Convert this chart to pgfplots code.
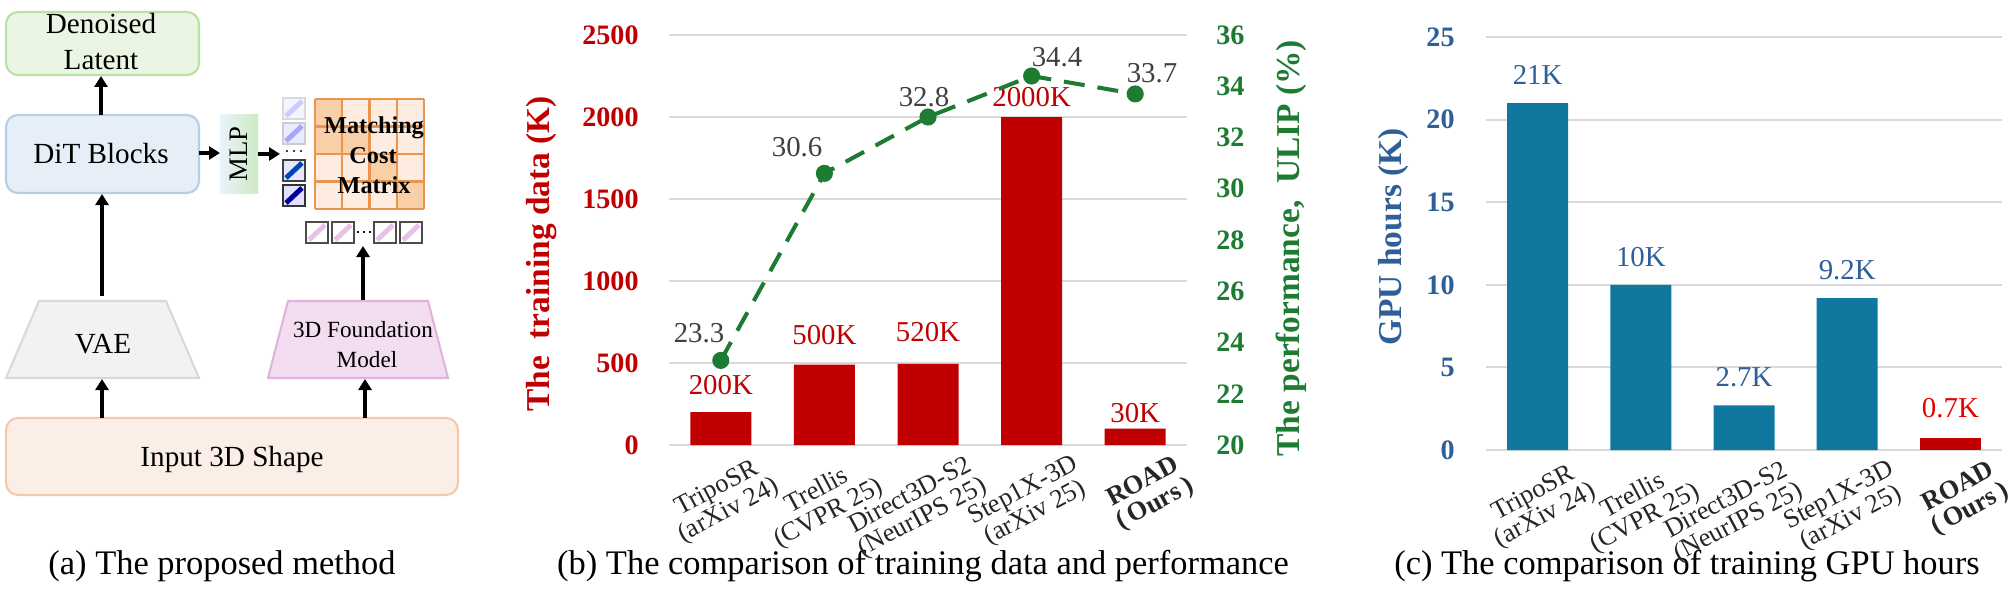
\documentclass[border=0pt]{standalone}
\usepackage{fontspec}
\setmainfont{Liberation Serif}
\usepackage{pgfplots}
\pgfplotsset{compat=1.18}
\usetikzlibrary{arrows.meta}

\definecolor{dred}{HTML}{C00000}
\definecolor{bred}{HTML}{E60000}
\definecolor{dgreen}{HTML}{1E7B32}
\definecolor{cblue}{HTML}{2E5F98}
\definecolor{cteal}{HTML}{10789F}
\definecolor{gridc}{HTML}{D9D9D9}
\definecolor{vgray}{HTML}{404040}
% diagram colours
\definecolor{gfill}{HTML}{EAF5E3}\definecolor{gline}{HTML}{B9E0A5}
\definecolor{bfill}{HTML}{E6EEF8}\definecolor{bline}{HTML}{B7CDE8}
\definecolor{vfill}{HTML}{F2F2F2}\definecolor{vline}{HTML}{D9D9D9}
\definecolor{ifill}{HTML}{FBEEE6}\definecolor{iline}{HTML}{F4C9B0}
\definecolor{pfill}{HTML}{F2DDF1}\definecolor{pline}{HTML}{E1B3DE}
\definecolor{mlight}{HTML}{FDECDF}\definecolor{mdark}{HTML}{F9CFA8}\definecolor{mline}{HTML}{E9954F}
\definecolor{mlpa}{HTML}{EAF2FA}\definecolor{mlpb}{HTML}{CDEBC4}

\newcommand\capfont{\fontsize{9.8}{11}\selectfont}
\newcommand\tickfont{\fontsize{8}{9}\selectfont\bfseries}
\newcommand\labfont{\fontsize{9.5}{11}\selectfont\bfseries}
\newcommand\valfont{\fontsize{8.2}{9}\selectfont}
\newcommand\xtfont{\fontsize{7.5}{7.2}\selectfont}

% one token square: x, y (top), fill, stripe, border
\newcommand\tok[5]{%
  \fill[#3] (#1,#2) rectangle ++(22,21);
  \draw[#4, line width=1.4pt] (#1+3,#2+18) -- (#1+19,#2+3);
  \draw[#5, line width=0.6pt] (#1,#2) rectangle ++(22,21);}

\pgfplotsset{
  barax/.style={
    scale only axis, xmin=-0.5, xmax=4.5, clip=false,
    axis line style={draw=none}, major tick length=0pt,
    ymajorgrids, grid style={color=gridc, line width=0.6pt},
    xtick={0,...,4}, scaled y ticks=false,
    /pgf/number format/1000 sep={},
    /pgf/number format/assume math mode=true,
    xticklabel style={font=\xtfont, text=black!85, align=center, inner sep=0pt,
      xshift=4mm, yshift=-0.7mm, rotate=28, anchor=north east},
    xticklabels={{TripoSR\\(arXiv 24)},{Trellis\\(CVPR 25)},
      {Direct3D-S2\\(NeurIPS 25)},{Step1X-3D\\(arXiv 25)},
      {\textbf{ROAD}\\\textbf{(\,Ours\,)}}},
  },
}

\begin{document}
\begin{tikzpicture}
\useasboundingbox (0,0) rectangle (201.5mm,-59.2mm);

% ---------------- (a) diagram, pixel coordinates from the top left
\begin{scope}[x=0.1mm, y=-0.1mm, line width=0.6pt]
  \draw[gline, fill=gfill, rounded corners=1.2mm] (6,12) rectangle (199,75);
  \node[font=\fontsize{8.3}{9}\selectfont, anchor=base] at (101,34) {Denoised};
  \node[font=\fontsize{8.3}{9}\selectfont, anchor=base] at (101,70) {Latent};

  \draw[bline, fill=bfill, rounded corners=1.2mm] (6,115) rectangle (199,193);
  \node[font=\fontsize{8.3}{9}\selectfont, anchor=base] at (101,164) {DiT Blocks};

  \draw[vline, fill=vfill] (39,301) -- (166,301) -- (199,378) -- (6,378) -- cycle;
  \node[font=\fontsize{8.3}{9}\selectfont, anchor=base] at (103,353) {VAE};

  \draw[pline, fill=pfill] (288,301) -- (428,301) -- (448,378) -- (268,378) -- cycle;
  \node[font=\fontsize{6.6}{7}\selectfont, anchor=base] at (363,337) {3D Foundation};
  \node[font=\fontsize{6.6}{7}\selectfont, anchor=base] at (367,367) {Model};

  \draw[iline, fill=ifill, rounded corners=1.2mm] (6,418) rectangle (458,495);
  \node[font=\fontsize{8.3}{9}\selectfont, anchor=base] at (232,466) {Input 3D Shape};

  \shade[left color=mlpa, right color=mlpb] (220,115) rectangle (258,193);
  \node[rotate=90, font=\fontsize{7.6}{8}\selectfont] at (239,154) {MLP};

  % blue query tokens
  \tok{283}{98}{blue!4}{blue!20}{black!15}
  \tok{283}{123}{blue!8}{blue!35}{black!20}
  \tok{283}{160}{blue!10}{blue!60!cyan!70!black}{black!75}
  \tok{283}{185}{blue!12}{blue!60!black}{black!80}
  \foreach \xx in {287,294,301} \fill (\xx,151) circle (0.12mm);

  % matching cost matrix
  \foreach \r in {0,...,3} \foreach \c in {0,...,3}
    \fill[mlight] (315+\c*27.25,99+\r*27.5) rectangle ++(27.25,27.5);
  \foreach \c/\r in {0/0,0/1,1/1,2/2,3/3}
    \fill[mdark] (315+\c*27.25,99+\r*27.5) rectangle ++(27.25,27.5);
  \foreach \i in {0,...,4} {
    \draw[mline] (315+\i*27.25,99) -- (315+\i*27.25,209);
    \draw[mline] (315,99+\i*27.5) -- (424,99+\i*27.5);
  }
  \node[font=\fontsize{6.9}{7}\selectfont\bfseries, anchor=base] at (374,133) {Matching};
  \node[font=\fontsize{6.9}{7}\selectfont\bfseries, anchor=base] at (373,163) {Cost};
  \node[font=\fontsize{6.9}{7}\selectfont\bfseries, anchor=base] at (374,193) {Matrix};

  % pink key tokens
  \foreach \xx in {306,332,374,400}
    \tok{\xx}{222}{white}{pline!80}{black!70}
  \foreach \xx in {358,364,370} \fill (\xx,232) circle (0.09mm);

  % arrows
  \begin{scope}[line width=1.1pt, -{Triangle[width=1.3mm,length=1.1mm]}]
    \draw (101,115) -- (101,76);
    \draw (102,296) -- (102,194);
    \draw (102,418) -- (102,379);
    \draw (365,418) -- (365,379);
    \draw (363,300) -- (363,246);
    \draw (199,153) -- (220,153);
    \draw (258,154) -- (280,154);
  \end{scope}

  % captions
  \node[font=\capfont, anchor=base] at (222,574) {(a) The proposed method};
  \node[font=\capfont, anchor=base] at (923,574) {(b) The comparison of training data and performance};
  \node[font=\capfont, anchor=base] at (1687,574) {(c) The comparison of training GPU hours};
\end{scope}

% ---------------- (b) training data (bars)
\begin{axis}[barax,
  at={(66.9mm,-44.5mm)}, anchor=south west, width=51.8mm, height=41mm,
  ymin=0, ymax=2500, ytick={0,500,...,2500},
  yticklabel style={text=dred, font=\tickfont, xshift=-1.8mm},
  ylabel={The\ \ training data (K)},
  ylabel style={text=dred, font=\labfont, at={(axis description cs:-0.245,0.466)}, anchor=center},
]
\addplot[ybar, bar width=6.1mm, bar shift=0pt, fill=dred, draw=none] table {
x y
0 200
1 490
2 495
3 2000
4 100
};
\node[text=dred, font=\valfont] at (axis cs:0,366) {200K};
\node[text=dred, font=\valfont] at (axis cs:1,671) {500K};
\node[text=dred, font=\valfont] at (axis cs:2,689) {520K};
\node[text=dred, font=\valfont] at (axis cs:3,2122) {2000K};
\node[text=dred, font=\valfont] at (axis cs:4,195) {30K};
\end{axis}

% ---------------- (b) performance (line, right axis)
\begin{axis}[
  scale only axis, clip=false,
  at={(66.9mm,-44.5mm)}, anchor=south west, width=51.8mm, height=41mm,
  xmin=-0.5, xmax=4.5, xtick=\empty,
  ymin=20, ymax=36, ytick={20,22,...,36},
  axis line style={draw=none}, major tick length=0pt,
  /pgf/number format/assume math mode=true,
  yticklabel pos=right,
  yticklabel style={text=dgreen, font=\tickfont, xshift=1.7mm, anchor=west},
  ylabel={The performance,\ \ ULIP (\%)},
  ylabel style={text=dgreen, font=\labfont, at={(axis description cs:1.2008,0.48)}, anchor=center},
]
\addplot[dgreen, line width=1.15pt, dash pattern=on 2.1mm off 1.3mm,
  mark=*, mark size=0.65mm, mark options={solid, fill=dgreen}] table {
x y
0 23.3
1 30.6
2 32.8
3 34.4
4 33.7
};
\node[text=vgray, font=\valfont] at (axis cs:-0.21,24.37) {23.3};
\node[text=vgray, font=\valfont] at (axis cs:0.736,31.63) {30.6};
\node[text=vgray, font=\valfont] at (axis cs:1.961,33.58) {32.8};
\node[text=vgray, font=\valfont] at (axis cs:3.245,35.14) {34.4};
\node[text=vgray, font=\valfont] at (axis cs:4.162,34.52) {33.7};
\end{axis}

% ---------------- (c) GPU hours
\begin{axis}[barax,
  at={(148.6mm,-45mm)}, anchor=south west, width=51.6mm, height=41.3mm,
  ymin=0, ymax=25, ytick={0,5,...,25},
  yticklabel style={text=cblue, font=\tickfont, xshift=-1.9mm},
  ylabel={GPU hours (K)},
  ylabel style={text=cblue, font=\labfont, at={(axis description cs:-0.18,0.516)}, anchor=center},
]
\addplot[ybar, bar width=6.1mm, bar shift=0pt, fill=cteal, draw=none] table {
x y
0 21
1 10
2 2.7
3 9.2
};
\addplot[ybar, bar width=6.1mm, bar shift=0pt, fill=dred, draw=none] table {
x y
4 0.7
};
\node[text=cblue, font=\valfont] at (axis cs:0,22.70) {21K};
\node[text=cblue, font=\valfont] at (axis cs:1,11.68) {10K};
\node[text=cblue, font=\valfont] at (axis cs:2,4.42) {2.7K};
\node[text=cblue, font=\valfont] at (axis cs:3,10.90) {9.2K};
\node[text=bred, font=\valfont] at (axis cs:4,2.54) {0.7K};
\end{axis}
\end{tikzpicture}
\end{document}
